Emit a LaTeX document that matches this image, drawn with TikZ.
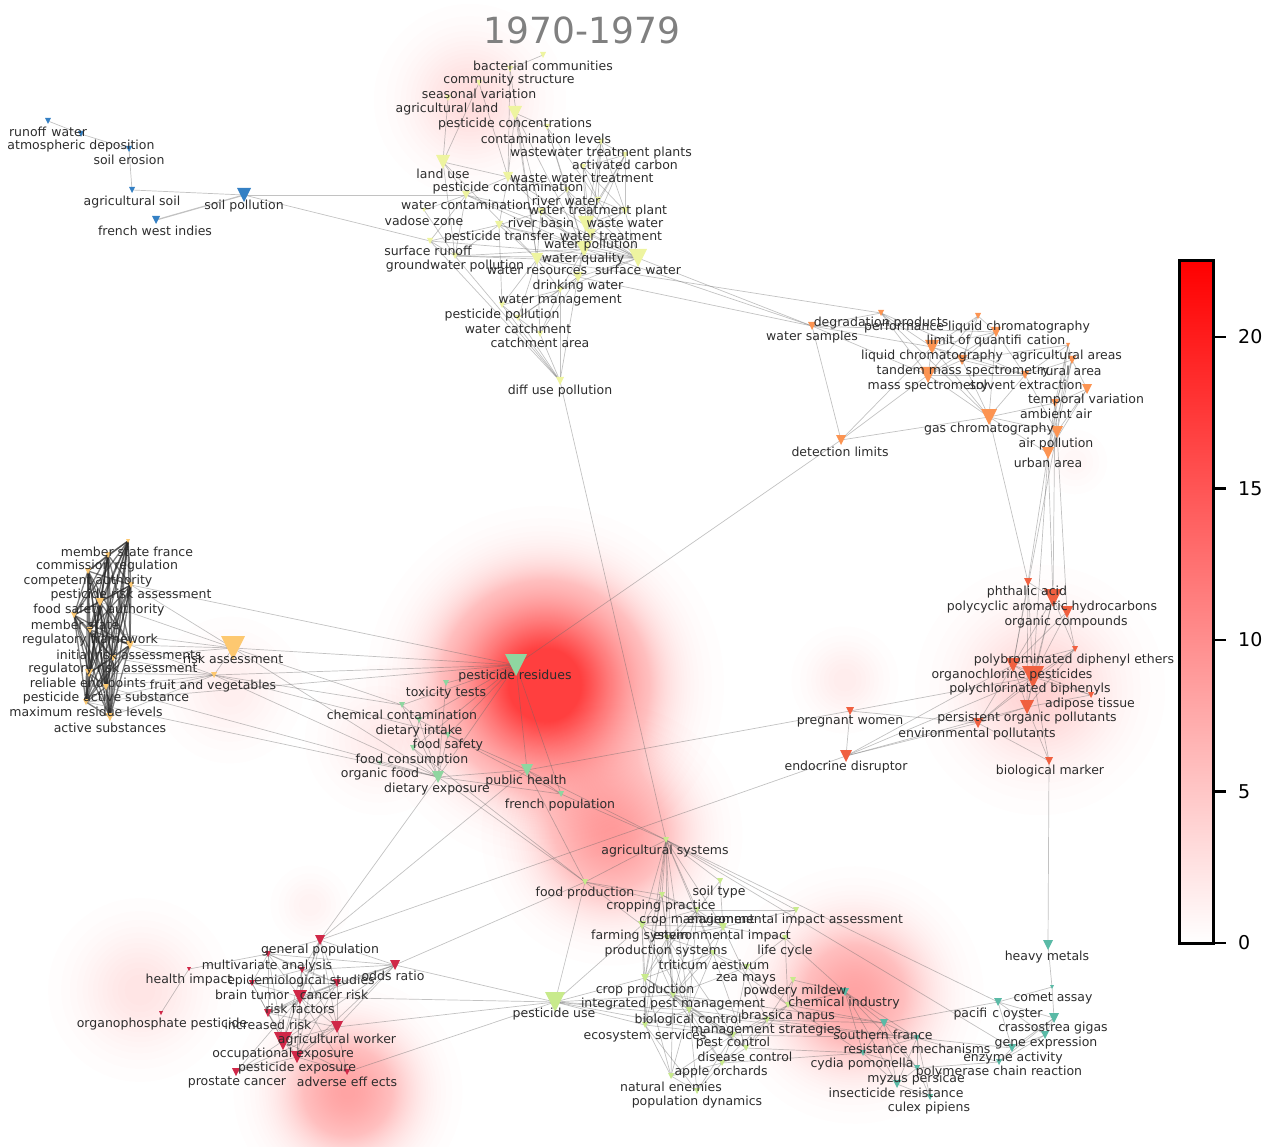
\documentclass[tikz,border=0pt]{standalone}
\usepackage{fontspec}
\setmainfont{DejaVu Sans}
\pgfdeclarelayer{glow}\pgfdeclarelayer{edges}\pgfdeclarelayer{fore}
\pgfsetlayers{glow,edges,main,fore}
\definecolor{cY}{RGB}{238,244,160}
\definecolor{cB}{RGB}{52,128,196}
\definecolor{cO}{RGB}{252,148,82}
\definecolor{cR}{RGB}{240,96,64}
\definecolor{cL}{RGB}{253,200,112}
\definecolor{cG}{RGB}{143,214,160}
\definecolor{cC}{RGB}{208,40,72}
\definecolor{cLG}{RGB}{200,234,140}
\definecolor{cT}{RGB}{90,186,166}
\definecolor{txt}{RGB}{45,45,45}
\tikzset{
  edge/.style={draw=black!60, line width=0.7pt, opacity=0.4},
  dense/.style={draw=black!85, line width=1.3pt, opacity=0.6},
  lbl/.style={font=\fontsize{12.5}{12.5}\selectfont, text=txt, inner sep=0pt},
  ticklbl/.style={font=\fontsize{19}{19}\selectfont, anchor=west, inner sep=0pt},
}
\newcommand\nd[8]{%
  \coordinate (#1) at (#2,#3);
  \fill[#5] (#2-#4,#3-#4) -- (#2+#4,#3-#4) -- (#2,#3+#4) -- cycle;
  \begin{pgfonlayer}{fore}\node[lbl] (#1-t) at (#6,#7) {#8};\end{pgfonlayer}}
% glow: centre x, centre y, sigma, number of discs (gaussian profile, each disc opacity 0.006)
\newcommand\glow[4]{\begin{pgfonlayer}{glow}\pgfmathtruncatemacro\glown{#4-1}%
  \foreach \k in {1,...,\glown} {\fill[red, opacity=0.006] (#1,#2) circle[radius={#3*sqrt(2*ln(#4/\k))}];}\end{pgfonlayer}}
\newcommand\edges[2]{\begin{pgfonlayer}{edges}\foreach \a/\b in {#2} {\draw[#1] (\a) -- (\b);}\end{pgfonlayer}}
\begin{document}
\begin{tikzpicture}[x=1pt,y=-1pt]
\useasboundingbox (0,0) rectangle (1274,1147);
% glows
\glow{545}{685}{55}{200}
\glow{612}{835}{45}{67}
\glow{348}{1092}{40}{60}
\glow{855}{995}{45}{60}
\glow{1040}{690}{50}{23}
\glow{470}{100}{40}{18}
\glow{230}{690}{35}{9}
\glow{140}{990}{40}{14}
\glow{845}{680}{25}{10}
\glow{1075}{462}{18}{5}
\glow{380}{740}{35}{10}
\glow{310}{905}{20}{7}
% title
\node[font=\fontsize{36}{36}\selectfont, text=black!50] (title) at (582,30) {1970-1979};
% blue
\nd{runoff}{48}{121}{3}{cB}{48}{132}{runoff\hspace{5pt}water}
\nd{atmos}{81}{134}{3}{cB}{81}{146}{atmospheric deposition}
\nd{soilero}{129}{149}{3}{cB}{129}{160}{soil erosion}
\nd{agsoil}{132}{190}{3}{cB}{132}{202}{agricultural soil}
\nd{soilpoll}{244}{195}{7}{cB}{244}{206}{soil pollution}
\nd{fwi}{156}{220}{4}{cB}{155}{231}{french west indies}
% yellow top
\nd{bact}{543}{55}{3}{cY}{543}{66}{bacterial communities}
\nd{comm}{510}{69}{3}{cY}{509}{80}{community structure}
\nd{seas}{479}{83}{3}{cY}{479}{94}{seasonal variation}
\nd{agland}{448}{98}{3}{cY}{447}{109}{agricultural land}
\nd{pconc}{515}{113}{7}{cY}{515}{124}{pesticide concentrations}
\nd{contlev}{547}{127}{3}{cY}{546}{139}{contamination levels}
\nd{wwtp}{601}{142}{3}{cY}{601}{153}{wastewater treatment plants}
\nd{actc}{625}{155}{3}{cY}{625}{165}{activated carbon}
\nd{landuse}{443}{162}{7}{cY}{443}{174}{land use}
\nd{wwt}{583}{167}{3}{cY}{582}{178}{waste water treatment}
\nd{pcont}{508}{177}{5}{cY}{508}{188}{pesticide contamination}
\nd{rivw}{567}{190}{3}{cY}{566}{201}{river water}
\nd{wcont}{466}{195}{4}{cY}{466}{205}{water contamination}
\nd{wtp}{598}{200}{3}{cY}{598}{211}{water treatment plant}
\nd{vadose}{424}{210}{2}{cY}{424}{221}{vadose zone}
\nd{rivb}{541}{212}{4}{cY}{541}{223}{river basin}
\nd{wastew}{625}{211}{4}{cY}{625}{223}{waste water}
\nd{ptrans}{499}{225}{4}{cY}{499}{237}{pesticide transfer}
\nd{wtreat}{586}{224}{8}{cY}{611}{236}{water treatment}
\nd{wpoll}{591}{234}{5}{cY}{591}{245}{water pollution}
\nd{srunoff}{430}{241}{3}{cY}{428}{251}{surface runoff}
\nd{gwpoll}{455}{256}{3}{cY}{455}{266}{groundwater pollution}
\nd{wqual}{584}{249}{8}{cY}{583}{259}{water quality}
\nd{wres}{537}{259}{6}{cY}{537}{270}{water resources}
\nd{swater}{638}{258}{9}{cY}{638}{270}{surface water}
\nd{dwater}{578}{277}{5}{cY}{578}{286}{drinking water}
\nd{wman}{560}{290}{3}{cY}{560}{300}{water management}
\nd{ppoll}{502}{305}{3}{cY}{502}{315}{pesticide pollution}
\nd{wcatch}{518}{318}{3}{cY}{518}{329}{water catchment}
\nd{catch}{540}{334}{3}{cY}{540}{343}{catchment area}
\nd{diff}{560}{381}{4}{cY}{560}{391}{diff use pollution}
% orange
\nd{degr}{881}{313}{3}{cO}{881}{323}{degradation products}
\nd{perf}{978}{316}{3}{cO}{977}{327}{performance liquid chromatography}
\nd{wsamp}{812}{326}{4}{cO}{812}{337}{water samples}
\nd{loq}{996}{332}{5}{cO}{996}{341}{limit of quantifi\hspace{5pt}cation}
\nd{liqchr}{932}{347}{7}{cO}{932}{356}{liquid chromatography}
\nd{tandem}{962}{360}{5}{cO}{963}{371}{tandem mass spectrometry}
\nd{agarea}{1068}{345}{2}{cO}{1067}{356}{agricultural areas}
\nd{rural}{1072}{360}{4}{cO}{1071}{371}{rural area}
\nd{massspec}{928}{375}{8}{cO}{928}{386}{mass spectrometry}
\nd{solvent}{1025}{375}{4}{cO}{1026}{385}{solvent extraction}
\nd{temporal}{1087}{389}{5}{cO}{1086}{400}{temporal variation}
\nd{ambient}{1055}{403}{4}{cO}{1056}{414}{ambient air}
\nd{gaschr}{989}{417}{8}{cO}{989}{429}{gas chromatography}
\nd{airpoll}{1057}{432}{6}{cO}{1056}{444}{air pollution}
\nd{urban}{1048}{453}{6}{cO}{1048}{463}{urban area}
\nd{detlim}{841}{440}{5}{cO}{840}{452}{detection limits}
% red right
\nd{phthal}{1028}{582}{4}{cR}{1027}{592}{phthalic acid}
\nd{pah}{1053}{598}{9}{cR}{1052}{607}{polycyclic aromatic hydrocarbons}
\nd{orgcomp}{1067}{612}{6}{cR}{1066}{622}{organic compounds}
\nd{pbde}{1075}{649}{3}{cR}{1074}{660}{polybrominated diphenyl ethers}
\nd{ocp}{1013}{665}{7}{cR}{1012}{675}{organochlorine pesticides}
\nd{pcb}{1033}{677}{11}{cR}{1030}{689}{polychlorinated biphenyls}
\nd{adipose}{1091}{695}{3}{cR}{1090}{704}{adipose tissue}
\nd{pop}{1027}{707}{7}{cR}{1027}{718}{persistent organic pollutants}
\nd{envpoll}{978}{723}{5}{cR}{977}{734}{environmental pollutants}
\nd{pregnant}{850}{711}{4}{cR}{850}{721}{pregnant women}
\nd{endocr}{846}{756}{6}{cR}{846}{767}{endocrine disruptor}
\nd{biomark}{1049}{761}{4}{cR}{1050}{771}{biological marker}
% left cluster
\nd{msf}{128}{541}{2}{cL}{127}{552}{member state france}
\nd{commreg}{108}{555}{3}{cL}{107}{566}{commission regulation}
\nd{compauth}{88}{571}{3}{cL}{88}{581}{competent authority}
\nd{pra}{131}{585}{3}{cL}{131}{595}{pesticide risk assessment}
\nd{fsa}{100}{602}{4}{cL}{99}{610}{food safety authority}
\nd{mstate}{74}{615}{3}{cL}{75}{625}{member state}
\nd{regfw}{90}{630}{3}{cL}{90}{640}{regulatory framework}
\nd{ira}{130}{645}{4}{cL}{129}{655}{initial risk assessments}
\nd{rra}{113}{658}{3}{cL}{113}{669}{regulatory risk assessment}
\nd{rep}{89}{673}{4}{cL}{88}{684}{reliable end points}
\nd{pas}{106}{687}{3}{cL}{106}{698}{pesticide active substance}
\nd{mrl}{86}{702}{3}{cL}{86}{712}{maximum residue levels}
\nd{actsub}{110}{717}{4}{cL}{110}{728}{active substances}
\nd{riskass}{233}{648}{12}{cL}{233}{659}{risk assessment}
\nd{fruitveg}{214}{675}{3}{cL}{213}{686}{fruit and vegetables}
% green
\nd{pres}{516}{665}{11}{cG}{515}{676}{pesticide residues}
\nd{toxt}{446}{683}{3}{cG}{446}{693}{toxicity tests}
\nd{chemcont}{402}{705}{3}{cG}{402}{715}{chemical contamination}
\nd{dietint}{419}{720}{3}{cG}{419}{731}{dietary intake}
\nd{foodsaf}{448}{735}{3}{cG}{448}{745}{food safety}
\nd{foodcons}{413}{748}{3}{cG}{412}{760}{food consumption}
\nd{orgfood}{380}{763}{2}{cG}{380}{774}{organic food}
\nd{dietexp}{438}{777}{6}{cG}{437}{789}{dietary exposure}
\nd{pubh}{527}{770}{6}{cG}{526}{781}{public health}
\nd{frenchpop}{561}{794}{3}{cG}{560}{805}{french population}
% crimson
\nd{genpop}{320}{940}{5}{cC}{320}{950}{general population}
\nd{multiv}{268}{954}{3}{cC}{267}{966}{multivariate analysis}
\nd{odds}{395}{965}{5}{cC}{393}{976}{odds ratio}
\nd{healthimp}{189}{969}{2}{cC}{189}{980}{health impact}
\nd{epid}{302}{970}{3}{cC}{301}{981}{epidemiological studies}
\nd{brain}{252}{983}{3}{cC}{252}{995}{brain tumor}
\nd{cancer}{337}{983}{4}{cC}{334}{995}{cancer risk}
\nd{riskf}{300}{997}{7}{cC}{300}{1009}{risk factors}
\nd{incr}{268}{1013}{4}{cC}{268}{1025}{increased risk}
\nd{organoph}{161}{1013}{2}{cC}{162}{1024}{organophosphate pesticide}
\nd{agwork}{337}{1027}{6}{cC}{337}{1040}{agricultural worker}
\nd{occup}{283}{1041}{9}{cC}{283}{1054}{occupational exposure}
\nd{pexp}{297}{1057}{6}{cC}{297}{1068}{pesticide exposure}
\nd{prost}{236}{1072}{4}{cC}{237}{1082}{prostate cancer}
\nd{adverse}{347}{1072}{3}{cC}{347}{1082}{adverse eff ects}
% light green
\nd{agsys}{666}{840}{3}{cLG}{665}{851}{agricultural systems}
\nd{foodprod}{585}{882}{3}{cLG}{585}{893}{food production}
\nd{soiltype}{720}{881}{3}{cLG}{719}{892}{soil type}
\nd{cropprac}{662}{895}{3}{cLG}{661}{906}{cropping practice}
\nd{cropman}{697}{910}{3}{cLG}{697}{920}{crop management}
\nd{eia}{796}{910}{3}{cLG}{795}{920}{environmental impact assessment}
\nd{farmsys}{642}{925}{4}{cLG}{640}{936}{farming system}
\nd{envimp}{723}{927}{4}{cLG}{722}{936}{environmental impact}
\nd{prodsys}{667}{938}{3}{cLG}{666}{951}{production systems}
\nd{lifecyc}{785}{938}{3}{cLG}{785}{951}{life cycle}
\nd{triticum}{713}{953}{3}{cLG}{714}{965}{triticum aestivum}
\nd{zea}{747}{967}{3}{cLG}{746}{979}{zea mays}
\nd{powdery}{793}{980}{3}{cLG}{795}{991}{powdery mildew}
\nd{cropprod}{645}{978}{4}{cLG}{645}{990}{crop production}
\nd{ipm}{673}{995}{3}{cLG}{673}{1004}{integrated pest management}
\nd{puse}{555}{1002}{10}{cLG}{554}{1014}{pesticide use}
\nd{brassica}{788}{1005}{3}{cLG}{788}{1016}{brassica napus}
\nd{bioctrl}{689}{1010}{3}{cLG}{688}{1020}{biological control}
\nd{ecoserv}{645}{1025}{3}{cLG}{645}{1036}{ecosystem services}
\nd{mgmt}{767}{1020}{3}{cLG}{766}{1030}{management strategies}
\nd{pestctrl}{733}{1035}{3}{cLG}{733}{1043}{pest control}
\nd{disctrl}{746}{1048}{3}{cLG}{745}{1057}{disease control}
\nd{apple}{722}{1063}{3}{cLG}{721}{1072}{apple orchards}
\nd{natenem}{671}{1076}{3}{cLG}{671}{1087}{natural enemies}
\nd{popdyn}{697}{1091}{3}{cLG}{697}{1102}{population dynamics}
% teal
\nd{heavy}{1048}{945}{5}{cT}{1047}{957}{heavy metals}
\nd{chemind}{845}{992}{4}{cT}{844}{1003}{chemical industry}
\nd{comet}{1052}{987}{2}{cT}{1053}{998}{comet assay}
\nd{pacific}{998}{1002}{4}{cT}{998}{1014}{pacifi\hspace{5pt}c oyster}
\nd{crass}{1054}{1018}{5}{cT}{1053}{1028}{crassostrea gigas}
\nd{southfr}{884}{1023}{4}{cT}{883}{1035}{southern france}
\nd{geneexp}{1045}{1035}{4}{cT}{1046}{1043}{gene expression}
\nd{resist}{917}{1038}{3}{cT}{917}{1049}{resistance mechanisms}
\nd{enzyme}{1012}{1048}{4}{cT}{1013}{1058}{enzyme activity}
\nd{cydia}{863}{1053}{3}{cT}{862}{1064}{cydia pomonella}
\nd{pcr}{999}{1062}{3}{cT}{999}{1072}{polymerase chain reaction}
\nd{myzus}{917}{1068}{3}{cT}{916}{1079}{myzus persicae}
\nd{insect}{897}{1084}{4}{cT}{896}{1093}{insecticide resistance}
\nd{culex}{930}{1097}{3}{cT}{929}{1108}{culex pipiens}
% ---- edges
\edges{edge}{runoff/atmos, atmos/soilero, soilero/agsoil, agsoil/soilpoll, soilpoll/wcont, soilpoll/srunoff}
\edges{edge,line width=1.3pt}{soilpoll/fwi}
\edges{edge}{bact/comm, comm/pcont, comm/wres, seas/pcont, seas/landuse, agland/landuse, pconc/pcont, pconc/wres, pconc/contlev, pconc/wqual, pconc/rivb, contlev/swater, contlev/wqual, contlev/rivw, wwtp/actc, wwtp/wwt, wwtp/wtp, wwtp/wastew, wwtp/wtreat, wwtp/wpoll, actc/wwt, actc/wtp, actc/wastew, actc/wtreat, actc/wqual, wwt/wtp, wwt/wastew, wwt/wtreat, wwt/wpoll, wtp/wastew, wtp/wtreat, wastew/wtreat, wastew/wpoll, wastew/swater, wtreat/wpoll, wtreat/wqual, wtreat/dwater, landuse/pcont, landuse/wcont, landuse/gwpoll, landuse/wres, pcont/wcont, pcont/rivw, pcont/wqual, pcont/swater, pcont/ptrans, wcont/vadose, wcont/srunoff, wcont/gwpoll, wcont/wqual, wcont/swater, wcont/rivb, rivw/wqual, rivw/rivb, rivw/swater, rivw/wtreat, rivb/wqual, rivb/wres, rivb/ptrans, rivb/swater, ptrans/srunoff, ptrans/gwpoll, ptrans/wres, ptrans/swater, ptrans/ppoll, ptrans/wqual, wqual/wres, wqual/dwater, wqual/swater, wqual/wman, wqual/wpoll, wres/dwater, wres/wman, wres/catch, wres/wcatch, wres/ppoll, wres/swater, swater/dwater, swater/wpoll, swater/wman, dwater/wman, dwater/catch, dwater/diff, dwater/wcatch, wman/catch, wman/diff, wman/wcatch, wman/ppoll, ppoll/wcatch, ppoll/diff, wcatch/catch, wcatch/diff, catch/diff, gwpoll/diff, srunoff/diff, gwpoll/wres, gwpoll/wqual, gwpoll/swater, srunoff/swater, vadose/gwpoll, srunoff/gwpoll}
\edges{edge}{swater/wsamp, wqual/wsamp, dwater/wsamp, wres/degr, diff/agsys}
\edges{edge}{wsamp/degr, wsamp/detlim, wsamp/liqchr, wsamp/massspec, wsamp/loq, degr/massspec, degr/gaschr, degr/solvent, degr/liqchr, perf/loq, perf/massspec, perf/liqchr, perf/tandem, loq/liqchr, loq/tandem, loq/massspec, loq/gaschr, loq/solvent, liqchr/tandem, liqchr/massspec, liqchr/gaschr, liqchr/solvent, tandem/massspec, tandem/gaschr, tandem/solvent, tandem/agarea, massspec/gaschr, massspec/detlim, massspec/solvent, solvent/gaschr, solvent/agarea, solvent/rural, solvent/airpoll, agarea/rural, agarea/ambient, agarea/airpoll, agarea/urban, rural/ambient, rural/airpoll, rural/temporal, rural/urban, temporal/ambient, temporal/airpoll, temporal/urban, ambient/airpoll, ambient/urban, airpoll/urban, gaschr/airpoll, gaschr/urban, gaschr/detlim, gaschr/ambient, liqchr/detlim}
\edges{edge}{detlim/pres, gaschr/phthal, urban/pah, urban/phthal, airpoll/orgcomp, ambient/pah, urban/pcb, airpoll/ocp}
\edges{edge}{phthal/pah, phthal/ocp, phthal/pcb, phthal/pop, pah/orgcomp, pah/ocp, pah/pcb, pah/pop, pah/pbde, orgcomp/pbde, orgcomp/pcb, orgcomp/ocp, pbde/ocp, pbde/pcb, pbde/envpoll, pbde/pop, ocp/pcb, ocp/pop, ocp/envpoll, ocp/adipose, pcb/pop, pcb/adipose, pcb/envpoll, pcb/biomark, pop/adipose, pop/envpoll, pop/biomark, envpoll/endocr, envpoll/biomark, pregnant/endocr, endocr/pop, endocr/pcb, endocr/ocp, pregnant/pcb, pregnant/envpoll}
\edges{edge}{pregnant/pubh, endocr/genpop, biomark/heavy}
\begin{pgfonlayer}{edges}
\foreach \a [count=\i] in {msf,commreg,compauth,pra,fsa,mstate,regfw,ira,rra,rep,pas,mrl,actsub}
  \foreach \b [count=\j] in {msf,commreg,compauth,pra,fsa,mstate,regfw,ira,rra,rep,pas,mrl,actsub}
    {\ifnum\j>\i \draw[dense] (\a) -- (\b);\fi}
\end{pgfonlayer}
\edges{edge}{pra/riskass, fsa/riskass, ira/riskass, rra/riskass, regfw/riskass, mrl/fruitveg, pas/fruitveg, rep/fruitveg, actsub/fruitveg, ira/fruitveg, rra/fruitveg, riskass/fruitveg, riskass/pres, riskass/dietexp, riskass/chemcont, fruitveg/pres, fruitveg/dietexp, fruitveg/chemcont, fruitveg/foodsaf, mrl/pres, pas/dietexp, mrl/dietexp, pra/pres}
\edges{edge}{pres/toxt, pres/chemcont, pres/dietint, pres/foodsaf, pres/dietexp, pres/pubh, pres/frenchpop, pres/foodcons, chemcont/dietexp, chemcont/dietint, dietint/dietexp, dietint/foodcons, dietint/foodsaf, foodsaf/dietexp, foodsaf/pubh, foodsaf/frenchpop, foodcons/dietexp, orgfood/dietexp, dietexp/pubh, dietexp/frenchpop, pubh/frenchpop, toxt/dietexp}
\edges{edge}{dietexp/genpop, pubh/genpop, pubh/agsys, frenchpop/agsys, dietexp/foodprod, foodcons/foodprod, pubh/foodprod}
\edges{edge}{genpop/multiv, genpop/odds, genpop/epid, genpop/cancer, genpop/riskf, genpop/occup, genpop/agwork, genpop/pexp, multiv/odds, multiv/epid, multiv/riskf, multiv/cancer, multiv/brain, multiv/incr, multiv/occup, odds/epid, odds/cancer, odds/riskf, odds/agwork, odds/occup, odds/incr, odds/pexp, epid/cancer, epid/riskf, epid/brain, epid/occup, epid/pexp, epid/agwork, brain/riskf, brain/cancer, brain/occup, brain/incr, cancer/riskf, cancer/agwork, cancer/occup, cancer/pexp, cancer/incr, riskf/incr, riskf/agwork, riskf/occup, riskf/pexp, riskf/prost, riskf/adverse, incr/occup, incr/agwork, incr/pexp, agwork/occup, agwork/pexp, agwork/adverse, occup/pexp, occup/prost, occup/adverse, pexp/prost, pexp/adverse, prost/agwork, healthimp/organoph, healthimp/multiv}
\edges{edge}{odds/puse, agwork/puse, adverse/puse, odds/foodprod, riskf/puse}
\edges{edge}{agsys/cropprac, agsys/cropman, agsys/farmsys, agsys/prodsys, agsys/envimp, agsys/cropprod, agsys/ipm, agsys/bioctrl, agsys/soiltype, agsys/eia, agsys/triticum, agsys/ecoserv, agsys/foodprod, foodprod/cropprac, foodprod/farmsys, foodprod/puse, foodprod/cropman, soiltype/cropman, soiltype/envimp, cropprac/cropman, cropprac/farmsys, cropprac/prodsys, cropprac/cropprod, cropprac/ipm, cropprac/envimp, cropman/eia, cropman/farmsys, cropman/envimp, cropman/prodsys, cropman/ipm, cropman/bioctrl, cropman/triticum, cropman/cropprod, eia/envimp, eia/lifecyc, farmsys/prodsys, farmsys/envimp, farmsys/cropprod, farmsys/ipm, farmsys/ecoserv, farmsys/bioctrl, farmsys/puse, envimp/prodsys, envimp/lifecyc, envimp/triticum, envimp/ipm, envimp/mgmt, prodsys/triticum, prodsys/cropprod, prodsys/ipm, prodsys/bioctrl, prodsys/pestctrl, prodsys/ecoserv, lifecyc/brassica, lifecyc/zea, triticum/zea, triticum/cropprod, triticum/ipm, triticum/bioctrl, triticum/disctrl, triticum/brassica, zea/ipm, zea/pestctrl, zea/brassica, powdery/brassica, powdery/mgmt, cropprod/ipm, cropprod/bioctrl, cropprod/puse, cropprod/ecoserv, cropprod/pestctrl, cropprod/natenem, ipm/bioctrl, ipm/pestctrl, ipm/mgmt, ipm/disctrl, ipm/apple, ipm/puse, ipm/natenem, ipm/ecoserv, puse/bioctrl, puse/ecoserv, puse/pestctrl, brassica/mgmt, brassica/pestctrl, brassica/disctrl, bioctrl/pestctrl, bioctrl/ecoserv, bioctrl/natenem, bioctrl/popdyn, bioctrl/apple, bioctrl/disctrl, bioctrl/mgmt, ecoserv/natenem, ecoserv/pestctrl, ecoserv/popdyn, mgmt/pestctrl, mgmt/disctrl, mgmt/apple, pestctrl/disctrl, pestctrl/apple, pestctrl/natenem, pestctrl/popdyn, disctrl/apple, apple/natenem, apple/popdyn, natenem/popdyn}
\edges{edge}{mgmt/southfr, mgmt/resist, brassica/southfr, brassica/cydia, disctrl/cydia, pestctrl/resist, apple/cydia, puse/resist, ipm/southfr, agsys/enzyme, agsys/pacific, powdery/chemind, brassica/chemind, lifecyc/chemind}
\edges{edge}{heavy/comet, comet/crass, comet/pacific, pacific/crass, pacific/geneexp, pacific/enzyme, crass/geneexp, crass/enzyme, geneexp/enzyme, enzyme/pcr, geneexp/pcr, crass/pcr, chemind/southfr, chemind/resist, chemind/cydia, chemind/myzus, chemind/insect, southfr/resist, southfr/cydia, southfr/myzus, southfr/insect, resist/cydia, resist/myzus, resist/insect, resist/culex, cydia/myzus, cydia/insect, myzus/insect, myzus/culex, insect/culex, pcr/myzus, southfr/pacific, resist/enzyme, resist/pcr}
% colorbar
\shade[top color=red, bottom color=white] (1179,261) rectangle (1213,943);
\draw[line width=3pt] (1179,261) rectangle (1213,943);
\foreach \v/\yy in {0/943,5/791.5,10/640,15/488.5,20/337} {
  \draw[line width=2.5pt] (1213,\yy) -- (1226,\yy);
  \node[ticklbl] (cb\v) at (1238,\yy) {\v};
}
\end{tikzpicture}
\end{document}
